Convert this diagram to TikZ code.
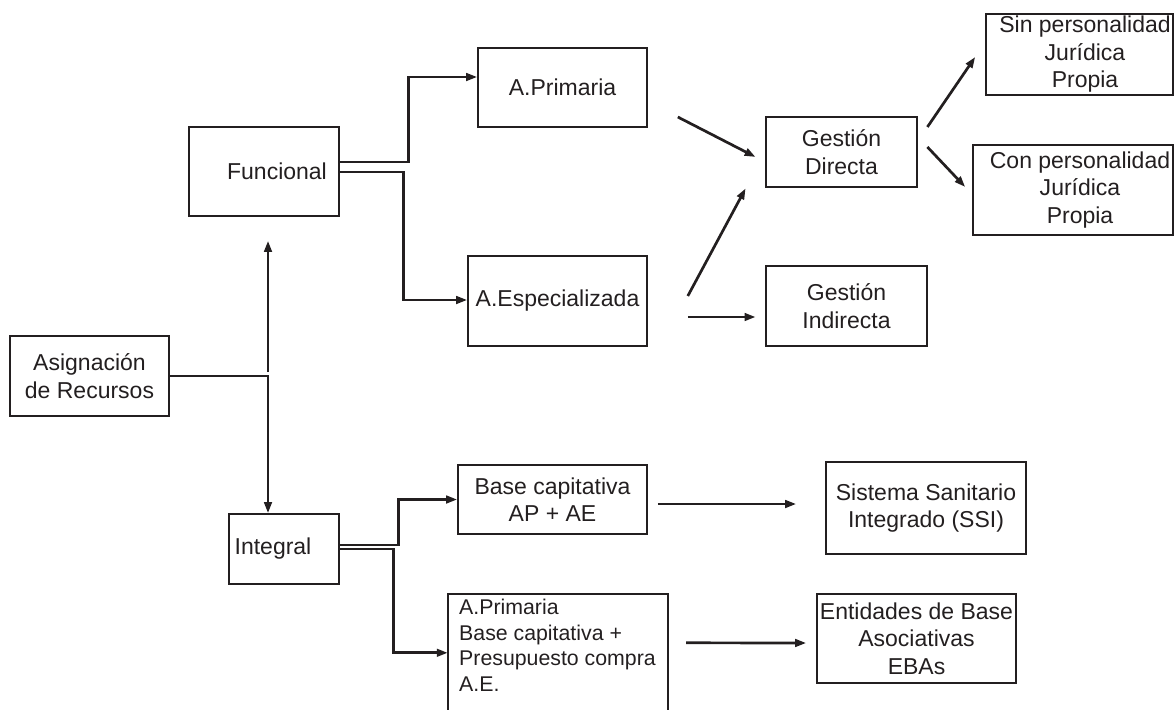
\documentclass[tikz,border=0pt]{standalone}
\usepackage{fontspec}
\setmainfont{Liberation Sans}
\usetikzlibrary{arrows.meta}
\definecolor{ink}{RGB}{35,31,32}
\begin{document}
\begin{tikzpicture}[x=1pt,y=-1pt,
  txtfont/.style={font=\fontsize{23}{27.5}\selectfont},
  box/.style={draw=ink, line width=1.6pt, inner sep=0pt, text=ink, txtfont, align=center},
  thickbox/.style={box, line width=2.8pt},
  lbl/.style={text=ink, txtfont, align=center, inner sep=0pt},
  conn/.style={draw=ink, line width=2.7pt, -{Triangle[length=11pt,width=7.5pt]}}]
\useasboundingbox (0,0) rectangle (1174,709);
\clip (0,0) rectangle (1174,709);

% boxes
\node[box, minimum width=159pt, minimum height=80pt] (asig) at (89.5,376) {Asignación\\de Recursos};
\node[box, minimum width=150pt, minimum height=89pt] (func) at (264,171.5) {\hspace*{26pt}Funcional};
\node[box, minimum width=169pt, minimum height=79pt] (prim) at (562.5,87.5) {A.Primaria};
\node[box, minimum width=179pt, minimum height=90pt] (esp) at (557.5,301) {A.Especializada};
\node[thickbox, minimum width=151pt, minimum height=70pt] (gd) at (841.5,152) {Gestión\\Directa};
\node[thickbox, minimum width=161pt, minimum height=80pt] (gi) at (846.5,306) {Gestión\\Indirecta};
\node[box, minimum width=187pt, minimum height=81pt,
  label={[lbl, xshift=5.5pt, name=sinT]center:Sin personalidad\\Jurídica\\Propia}] (sin) at (1079.5,54.5) {};
\node[box, minimum width=200pt, minimum height=90pt,
  label={[lbl, xshift=7pt, name=conT]center:Con personalidad\\Jurídica\\Propia}] (con) at (1073,190) {};
\node[box, minimum width=110pt, minimum height=70pt] (integ) at (284,549) {Integral\hspace*{22pt}};
\node[box, minimum width=189pt, minimum height=69pt] (base) at (552.5,499.5) {Base capitativa\\AP + AE};
\node[box, minimum width=200pt, minimum height=92pt] (ssi) at (926,508) {Sistema Sanitario\\Integrado (SSI)};
\node[box, minimum width=199pt, minimum height=89pt] (ebas) at (916.5,638.5) {Entidades de Base\\Asociativas\\EBAs};
\node[inner sep=0pt, minimum width=220pt, minimum height=146pt] (bb) at (558,667) {};
\draw[ink, line width=1.6pt] (bb.south west) -- (bb.north west) -- (bb.north east) -- (bb.south east);
\node[text=ink, inner sep=0pt, align=left, anchor=north west, font=\fontsize{21.3}{25.5}\selectfont] (bbt) at (459,599)
  {A.Primaria\\Base capitativa +\\Presupuesto compra\\A.E.};

% connectors
\coordinate (j0) at (268,372);
\draw[conn] (asig.east) -| ([xshift=-16pt]integ.north);
\draw[conn] (j0) -- ([xshift=4pt,yshift=-24pt]func.south);
\draw[conn] ([yshift=9.5pt]func.east) -- ++(69,0) |- ([yshift=10.5pt]prim.west);
\draw[conn] ([yshift=-0.5pt]func.east) -- ++(64,0) |- ([yshift=1pt]esp.west);
\draw[conn] ([yshift=4pt]integ.east) -- ++(59,0) |- (base.west);
\draw[conn] (integ.east) -- ++(54,0) |- ([yshift=-59pt]bb.north west);

\draw[conn] ([xshift=30pt,yshift=-29.5pt]prim.east) -- ([xshift=-9pt,yshift=-5pt]gd.west);
\draw[conn] ([xshift=40pt,yshift=5pt]esp.east) -- ([xshift=-19pt]gd.south west);
\draw[conn] ([xshift=40pt,yshift=-16pt]esp.east) -- ([xshift=-9pt,yshift=-11pt]gi.west);
\draw[conn] ([xshift=9pt,yshift=25pt]gd.east) -- ([xshift=-10pt,yshift=-2.5pt]sin.west);
\draw[conn] ([xshift=9pt,yshift=5pt]gd.east) -- ([xshift=-7pt,yshift=3pt]con.west);
\draw[conn] ([xshift=10pt,yshift=-4.5pt]base.east) -- ([xshift=-29pt,yshift=4pt]ssi.west);
\draw[conn] ([xshift=18pt,yshift=-49pt]bb.north east) -- ([xshift=-10pt,yshift=-4.5pt]ebas.west);
\end{tikzpicture}
\end{document}
